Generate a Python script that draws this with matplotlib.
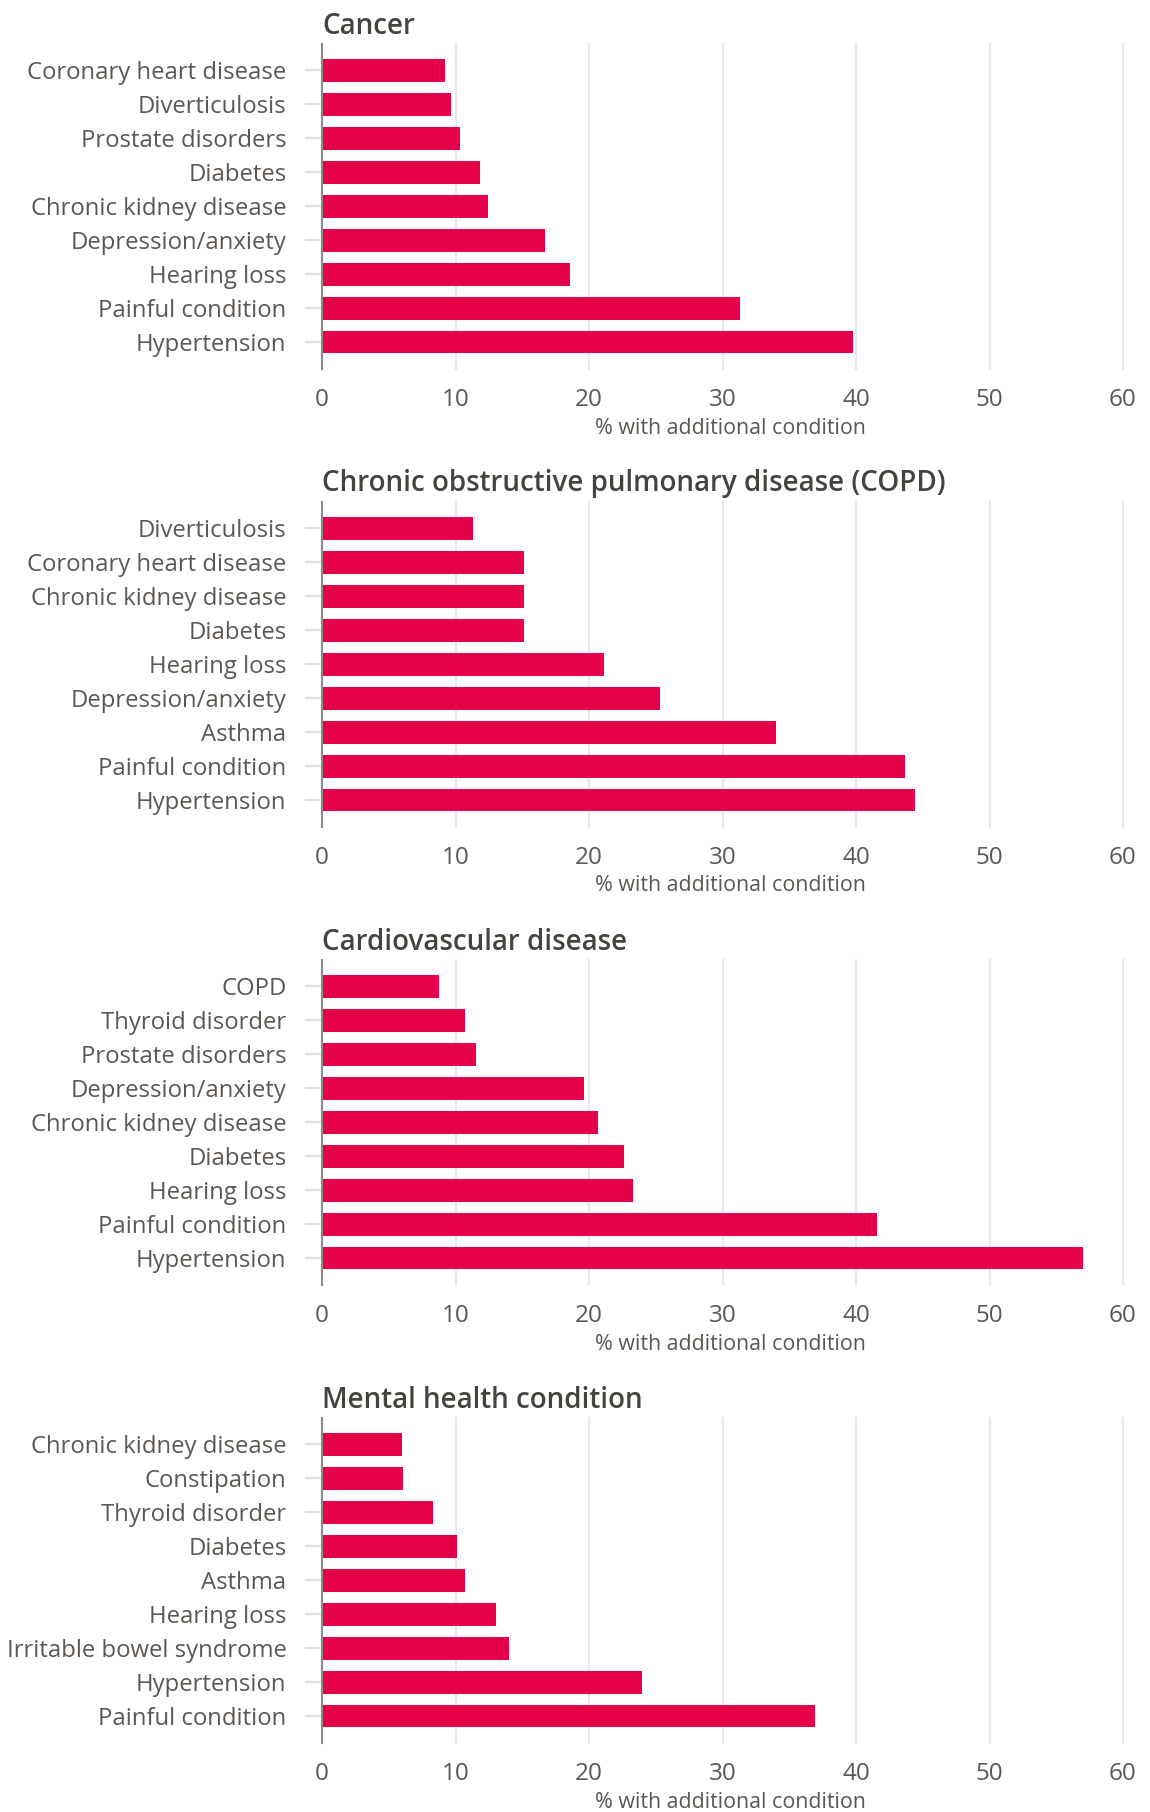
import matplotlib
matplotlib.use("Agg")
import matplotlib.pyplot as plt

plt.rcParams['font.family'] = ['Open Sans', 'DejaVu Sans']

# ---- data ----
cancer_labels = ["Coronary heart disease", "Diverticulosis", "Prostate disorders", "Diabetes",
                 "Chronic kidney disease", "Depression/anxiety", "Hearing loss",
                 "Painful condition", "Hypertension"]
cancer_values = [9.2, 9.7, 10.3, 11.8, 12.4, 16.7, 18.6, 31.3, 39.8]

copd_labels = ["Diverticulosis", "Coronary heart disease", "Chronic kidney disease", "Diabetes",
               "Hearing loss", "Depression/anxiety", "Asthma", "Painful condition", "Hypertension"]
copd_values = [11.3, 15.1, 15.1, 15.1, 21.1, 25.3, 34.0, 43.7, 44.4]

cvd_labels = ["COPD", "Thyroid disorder", "Prostate disorders", "Depression/anxiety",
              "Chronic kidney disease", "Diabetes", "Hearing loss", "Painful condition",
              "Hypertension"]
cvd_values = [8.8, 10.7, 11.5, 19.6, 20.7, 22.6, 23.3, 41.6, 57.0]

mh_labels = ["Chronic kidney disease", "Constipation", "Thyroid disorder", "Diabetes", "Asthma",
             "Hearing loss", "Irritable bowel syndrome", "Hypertension", "Painful condition"]
mh_values = [6.0, 6.1, 8.3, 10.1, 10.7, 13.0, 14.0, 24.0, 36.9]

titles = ["Cancer", "Chronic obstructive pulmonary disease (COPD)",
          "Cardiovascular disease", "Mental health condition"]
xticks = [0, 10, 20, 30, 40, 50, 60]
xlabel = "% with additional condition"

panels = [(cancer_labels, cancer_values), (copd_labels, copd_values),
          (cvd_labels, cvd_values), (mh_labels, mh_values)]

# ---- layout (pixels) ----
W, H = 1150, 1812
fig = plt.figure(figsize=(W / 100, H / 100), dpi=100)
fig.patch.set_facecolor("white")

left_px, right_px = 322, 1123
tops = [44, 502, 960, 1418]
ax_h = 325

BAR = "#E6004A"
TXT = "#5c5752"
TITLE = "#46423e"
GRID = "#ebe9e4"
SPINE = "#8f8a85"
TICK = "#e2e0d8"

for (labels, values), title, top in zip(panels, titles, tops):
    ax = fig.add_axes([left_px / W, 1 - (top + ax_h) / H, (right_px - left_px) / W, ax_h / H])
    y = list(range(len(labels)))
    ax.barh(y, values, height=0.66, color=BAR, zorder=3)
    ax.set_ylim(8.786, -0.774)
    ax.set_xlim(0, 60)
    ax.set_yticks(y)
    ax.set_yticklabels(labels)
    ax.set_xticks(xticks)
    ax.set_xticklabels([str(t) for t in xticks])
    for s in ["top", "right", "bottom"]:
        ax.spines[s].set_visible(False)
    ax.spines["left"].set_color(SPINE)
    ax.spines["left"].set_linewidth(1.5)
    ax.spines["left"].set_zorder(4)
    ax.tick_params(axis="y", length=12, width=1.6, color=TICK, pad=13.5,
                   labelsize=17.2, labelcolor=TXT)
    ax.tick_params(axis="x", length=0, pad=13.5, labelsize=17.5, labelcolor=TXT)
    ax.grid(axis="x", color=GRID, linewidth=1.6, zorder=0)
    for gl in ax.get_xgridlines():
        gl.set_clip_on(False)
    ax.get_xgridlines()[0].set_visible(False)
    ax.set_facecolor("none")
    fig.text(left_px / W, 1 - (top - 18) / H, title, ha="left", va="center",
             fontsize=20, fontweight="semibold", color=TITLE)
    fig.text(730 / W, 1 - (top + 384) / H, xlabel, ha="center", va="center",
             fontsize=15.4, color=TXT)

fig.savefig("out.png", dpi=100, facecolor="white")
